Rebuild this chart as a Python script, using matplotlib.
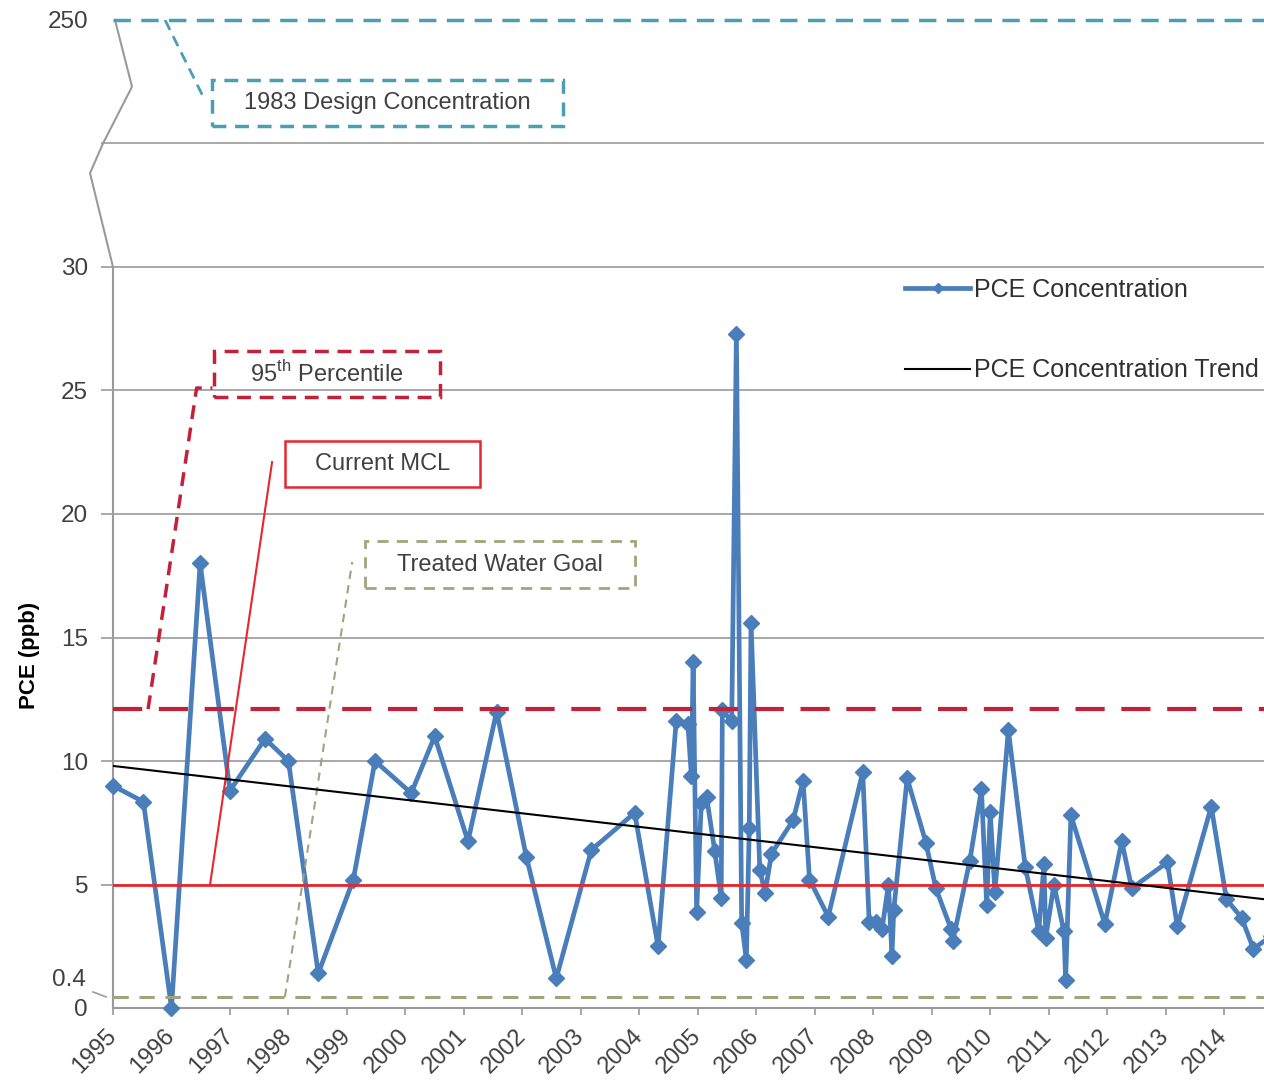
import matplotlib.pyplot as plt
import matplotlib.patches as patches
import numpy as np

plt.rcParams['font.family'] = ['Liberation Sans', 'DejaVu Sans']
plt.rcParams['mathtext.fontset'] = 'custom'
plt.rcParams['mathtext.rm'] = 'Liberation Sans'

# ---------- data (decimal years, ppb) ---------- #
pce_year = [1995.00, 1995.52, 1996.00, 1996.49, 1997.00, 1997.60, 1998.00, 1998.51,
            1999.11, 1999.48, 2000.10, 2000.50, 2001.07, 2001.56, 2002.07, 2002.58,
            2003.18, 2003.92, 2004.32, 2004.63, 2004.83, 2004.89, 2004.92, 2004.98,
            2005.06, 2005.15, 2005.29, 2005.40, 2005.42, 2005.58, 2005.66, 2005.75,
            2005.83, 2005.88, 2005.91, 2006.06, 2006.15, 2006.26, 2006.63, 2006.80,
            2006.91, 2007.23, 2007.82, 2007.93, 2008.05, 2008.15, 2008.26, 2008.32,
            2008.35, 2008.58, 2008.90, 2009.07, 2009.33, 2009.36, 2009.65, 2009.85,
            2009.94, 2010.00, 2010.08, 2010.31, 2010.60, 2010.83, 2010.92, 2010.95,
            2011.09, 2011.26, 2011.29, 2011.38, 2011.96, 2012.25, 2012.42, 2013.03,
            2013.20, 2013.78, 2014.04, 2014.30, 2014.50, 2014.80]
pce_conc = [9.0, 8.35, 0.0, 18.0, 8.8, 10.9, 10.0, 1.4,
            5.2, 10.0, 8.7, 11.0, 6.75, 12.0, 6.1, 1.2,
            6.4, 7.9, 2.5, 11.6, 11.5, 9.4, 14.0, 3.9,
            8.3, 8.55, 6.35, 4.45, 12.05, 11.6, 27.3, 3.45,
            1.95, 7.3, 15.6, 5.6, 4.65, 6.25, 7.6, 9.2,
            5.2, 3.7, 9.55, 3.5, 3.5, 3.2, 5.0, 2.1,
            3.95, 9.3, 6.7, 4.85, 3.2, 2.7, 5.95, 8.85,
            4.15, 7.95, 4.7, 11.25, 5.7, 3.1, 5.85, 2.85,
            5.0, 3.1, 1.15, 7.8, 3.4, 6.75, 4.85, 5.9,
            3.3, 8.15, 4.4, 3.65, 2.4, 2.9]

trend_year = [1995.0, 2014.7]
trend_conc = [9.8, 4.4]

mcl = 5.0
pct95 = 12.1
goal = 0.45
design = 40.0          # plotted position of the 250 ppb design level (broken axis)

ytick_vals = [0, 5, 10, 15, 20, 25, 30, 40]
ytick_labels = ['0', '5', '10', '15', '20', '25', '30', '250']
grid_vals = [5, 10, 15, 20, 25, 30, 35]
years = list(range(1995, 2015))

blue = '#4a7ebb'
teal = '#4a9fb2'
darkred = '#c3203a'
red = '#e8262e'
olive = '#a3a37c'
grey = '#9a9a9a'
txt = '#404040'

fig = plt.figure(figsize=(12.64, 10.8), dpi=100)
ax = fig.add_axes([113/1264, 72/1080, 1 - 113/1264, 988/1080])
x0, x1 = 1995, 1995 + 1151/58.48
ax.set_xlim(x0, x1)
ax.set_ylim(0, 40)

# gridlines (extend slightly left of the axis like tick marks)
ax.hlines(grid_vals, x0 - 0.2, x1, color=grey, lw=1.2, clip_on=False, zorder=1)

# broken-axis zigzag
zig_x = [x0 + v / 58.48 for v in [0, -23, -10, 19, 2]]
zig_y = [30, 33.8, 35, 37.3, 40]
ax.plot(zig_x, zig_y, color=grey, lw=1.5, clip_on=False, zorder=1)
ax.plot([x0 - 20/58.48, x0 - 7/58.48], [0.65, 0.45], color=grey, lw=1.2, clip_on=False)

# reference lines
ax.axhline(design, color=teal, lw=2.5, ls=(0, (5, 3)), clip_on=False, zorder=4)
ax.axhline(pct95, color=darkred, lw=3, ls=(0, (7, 4)), zorder=4)
ax.axhline(mcl, color=red, lw=2, zorder=4)
ax.axhline(goal, color=olive, lw=2.2, ls=(0, (5, 3.5)), zorder=4)

# series
ax.plot(pce_year, pce_conc, color=blue, lw=3.4, marker='D', ms=8, zorder=3,
        clip_on=False, label='PCE Concentration')
ax.plot(trend_year, trend_conc, color='black', lw=1.5, zorder=5,
        label='PCE Concentration Trend')

# ---------- annotation boxes ---------- #
def box(xa, xb, ya, yb, text, color, ls, lw):
    ax.add_patch(patches.Rectangle((xa, ya), xb - xa, yb - ya, fill=False,
                                   edgecolor=color, ls=ls, lw=lw, zorder=6))
    ax.text((xa + xb) / 2, (ya + yb) / 2, text, ha='center', va='center',
            fontsize=17, color=txt, zorder=6)

box(1996.69, 2002.69, 35.71, 37.57, '1983 Design Concentration', teal, (0, (4, 2.5)), 2.5)
ax.plot([1995.89, 1996.57], [40, 36.76], color=teal, lw=2, ls=(0, (4, 2.5)), zorder=4)

box(1996.73, 2000.59, 24.74, 26.6, r'95$^{\mathrm{th}}$ Percentile', darkred, (0, (4, 2.5)), 2.5)
ax.plot([1995.60, 1996.43, 1996.70], [12.1, 25.1, 25.1], color=darkred, lw=2.5,
        ls=(0, (4, 2.5)), zorder=4)

box(1997.94, 2001.27, 21.09, 22.96, 'Current MCL', red, '-', 1.8)
ax.plot([1996.66, 1997.72], [5.0, 22.1], color=red, lw=1.5, zorder=4)

box(1999.31, 2003.92, 17.0, 18.91, 'Treated Water Goal', olive, (0, (4, 3)), 2)
ax.plot([1997.94, 1999.09], [0.45, 18.06], color=olive, lw=1.5, ls=(0, (4, 3)), zorder=4)

# ---------- axes styling ---------- #
for s in ['top', 'right']:
    ax.spines[s].set_visible(False)
ax.spines['left'].set_bounds(0, 30)
ax.spines['left'].set_color(grey)
ax.spines['left'].set_linewidth(1.5)
ax.spines['bottom'].set_color(grey)
ax.spines['bottom'].set_linewidth(1.5)

ax.set_yticks(ytick_vals)
ax.set_yticklabels(ytick_labels)
ax.tick_params(axis='y', length=0, pad=18, labelsize=17.5, labelcolor=txt)
ax.text(x0 - 27/58.48, 1.15, '0.4', ha='right', va='center', fontsize=17.5, color=txt)

ax.set_xticks(years)
ax.set_xticklabels([str(y) for y in years], rotation=45, ha='right',
                   va='center', rotation_mode='anchor')
ax.tick_params(axis='x', length=5, width=1.2, color=grey, pad=13, labelsize=17,
               labelcolor=txt)

fig.text(30/1264, 1 - 655/1080, 'PCE (ppb)', rotation=90, ha='center', va='center',
         fontsize=16, fontweight='bold', color='black')

leg = ax.legend(loc='upper left', bbox_to_anchor=(905/1264, 1 - 278/1080),
                bbox_transform=fig.transFigure, frameon=False, fontsize=18,
                handlelength=2.6, handletextpad=0.15, labelspacing=2.25,
                borderpad=0, borderaxespad=0, markerscale=0.7)
for t in leg.get_texts():
    t.set_color('#303030')

fig.savefig('out.png', dpi=100)
